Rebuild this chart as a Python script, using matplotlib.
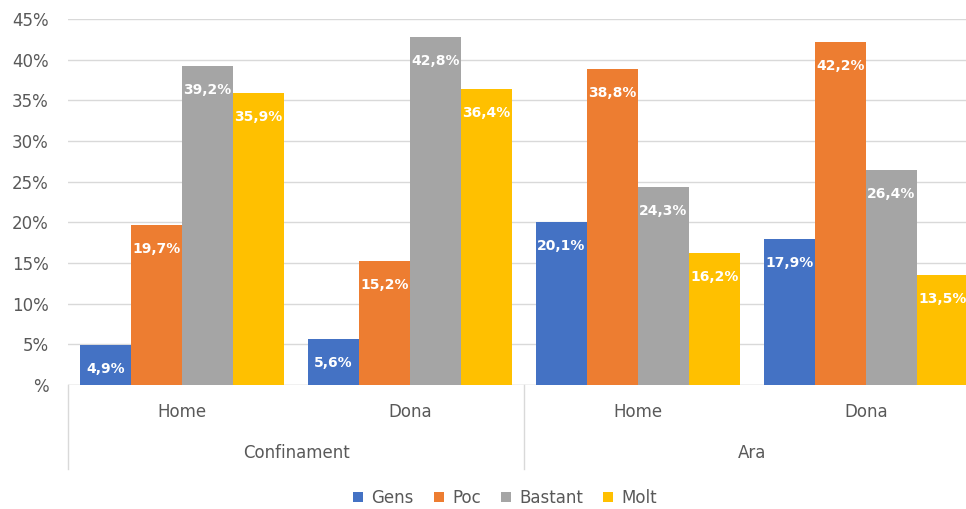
import matplotlib.pyplot as plt
from matplotlib.patches import Patch
from matplotlib.ticker import FuncFormatter

# data
groups = ['Confinament', 'Ara']
subgroups = ['Home', 'Dona', 'Home', 'Dona']
series = ['Gens', 'Poc', 'Bastant', 'Molt']
gens = [4.9, 5.6, 20.1, 17.9]
poc = [19.7, 15.2, 38.8, 42.2]
bastant = [39.2, 42.8, 24.3, 26.4]
molt = [35.9, 36.4, 16.2, 13.5]
colors = ['#4472C4', '#ED7D31', '#A5A5A5', '#FFC000']

txt = '#595959'
grid = '#D9D9D9'

fig = plt.figure(figsize=(9.66, 5.09), dpi=100)
ax = fig.add_axes([68/966, 124/509, 912/966, 366/509])

w = 0.224
for i, vals in enumerate([gens, poc, bastant, molt]):
    xs = [k + (i - 1.5) * w for k in range(len(subgroups))]
    bars = ax.bar(xs, vals, width=w, color=colors[i], zorder=3)
    for b, v in zip(bars, vals):
        ax.annotate(('%.1f%%' % v).replace('.', ','),
                    (b.get_x() + b.get_width() / 2, v),
                    xytext=(0, -24), textcoords='offset pixels',
                    ha='center', va='center', color='white',
                    fontsize=10, fontweight='bold', zorder=4)

ax.set_xlim(-0.5, 3.5)
ax.set_ylim(0, 45)
ax.set_yticks(range(0, 50, 5))
ax.yaxis.set_major_formatter(FuncFormatter(lambda v, p: '%' if v == 0 else '%d%%' % v))
ax.tick_params(axis='y', length=0, labelsize=12, labelcolor=txt, pad=14)
ax.set_xticks([])
ax.grid(axis='y', color=grid, linewidth=1, zorder=0)
for s in ax.spines.values():
    s.set_visible(False)
ax.axhline(0, color=grid, linewidth=1, zorder=2)

# two-level category axis
for k, lab in enumerate(subgroups):
    ax.text(k, -0.074, lab, transform=ax.get_xaxis_transform(), ha='center', va='center',
            fontsize=12, color=txt)
for g, lab in enumerate(groups):
    ax.text(2 * g + 0.5, -0.186, lab, transform=ax.get_xaxis_transform(), ha='center',
            va='center', fontsize=12, color=txt)
for xv in [-0.5, 1.5, 3.5]:
    ax.plot([xv, xv], [0, -0.23], transform=ax.get_xaxis_transform(), color=grid,
            linewidth=1, clip_on=False)

handles = [Patch(facecolor=c) for c in colors]
fig.legend(handles, series, loc='center', bbox_to_anchor=(0.523, 0.022), ncol=4,
           frameon=False, fontsize=12, labelcolor=txt, handlelength=0.6, handleheight=0.6,
           handletextpad=0.5, columnspacing=1.2)

fig.savefig('out.png', dpi=100)
